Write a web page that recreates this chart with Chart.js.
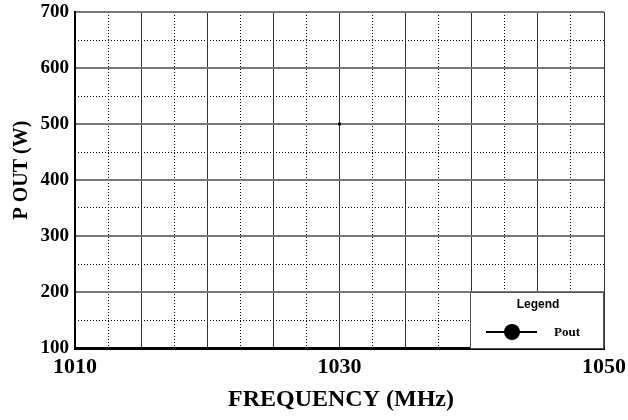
<!DOCTYPE html>
<html>
<head>
<meta charset="utf-8">
<script src="https://cdn.jsdelivr.net/npm/chart.js@4/dist/chart.umd.min.js"></script>
<style>
  html, body { margin: 0; padding: 0; background: #fff; }
  #wrap { width: 628px; height: 420px; }
</style>
</head>
<body>
<div id="wrap"><canvas id="c" width="628" height="420"></canvas></div>
<script>
// Data: the only mark is a tiny point at 1030 MHz / 500 W
const freqMHz = [1030];
const poutW = [500];

const xMin = 1010, xMax = 1050, xMajorStep = 5, xMinorStep = 2.5;
const xLabeled = [1010, 1030, 1050];
const yMin = 100, yMax = 700, yMajorStep = 100, yMinorStep = 50;

const SERIF = '"Liberation Serif", "Times New Roman", serif';
const SANS = '"Liberation Sans", Arial, sans-serif';

// Titles and legend box drawn by hand
const decorPlugin = {
  id: 'decor',
  afterDraw(chart) {
    const { ctx, chartArea: a } = chart;
    ctx.save();
    ctx.fillStyle = '#000';

    // x title
    ctx.font = 'bold 24px ' + SERIF;
    ctx.textAlign = 'center';
    ctx.textBaseline = 'middle';
    ctx.fillText('FREQUENCY (MHz)', 341, 400);

    // y title
    ctx.save();
    ctx.translate(22, 170);
    ctx.rotate(-Math.PI / 2);
    ctx.font = 'bold 20px ' + SERIF;
    ctx.fillText('P OUT (W)', 0, 0);
    ctx.restore();

    // legend box
    const bx = 470, by = 292, bw = a.right - bx, bh = a.bottom - by;
    ctx.fillStyle = '#fff';
    ctx.fillRect(bx, by, bw, bh);
    ctx.strokeStyle = '#555';
    ctx.lineWidth = 1;
    ctx.strokeRect(bx + 0.5, by + 0.5, bw - 1, bh);

    ctx.fillStyle = '#000';
    ctx.font = 'bold 12px ' + SANS;
    ctx.fillText('Legend', 538, 305);

    ctx.strokeStyle = '#000';
    ctx.lineWidth = 2;
    ctx.beginPath();
    ctx.moveTo(486, 332);
    ctx.lineTo(537, 332);
    ctx.stroke();
    ctx.beginPath();
    ctx.arc(512, 332, 8, 0, Math.PI * 2);
    ctx.fill();

    ctx.font = 'bold 13px ' + SERIF;
    ctx.fillText('Pout', 567, 333);
    ctx.restore();
  }
};

const points = freqMHz.map((f, i) => ({ x: f, y: poutW[i] }));

new Chart(document.getElementById('c'), {
  type: 'scatter',
  data: {
    datasets: [{
      label: 'Pout',
      data: points,
      pointStyle: 'rect',
      pointRadius: 2,
      backgroundColor: '#000',
      borderColor: '#000',
      borderWidth: 0
    }]
  },
  options: {
    responsive: false,
    animation: false,
    devicePixelRatio: 1,
    layout: { padding: { top: 12, right: 24, left: 0, bottom: 0 } },
    plugins: { legend: { display: false }, tooltip: { enabled: false } },
    scales: {
      xMinor: {
        type: 'linear', position: 'bottom', min: xMin, max: xMax,
        ticks: { display: false, stepSize: xMinorStep },
        grid: { color: '#000', lineWidth: 1, drawTicks: false },
        border: { display: false, dash: [1, 2] },
        afterFit(s) { s.height = 0; }
      },
      yMinor: {
        type: 'linear', position: 'left', min: yMin, max: yMax,
        ticks: { display: false, stepSize: yMinorStep },
        grid: { color: '#000', lineWidth: 1, drawTicks: false },
        border: { display: false, dash: [1, 2] },
        afterFit(s) { s.width = 0; }
      },
      x: {
        type: 'linear', position: 'bottom', min: xMin, max: xMax,
        ticks: {
          stepSize: xMajorStep,
          autoSkip: false,
          maxRotation: 0,
          padding: 6,
          color: '#000',
          font: { family: SERIF, size: 22, weight: 'bold' },
          callback: v => xLabeled.includes(v) ? String(v) : ''
        },
        grid: { color: '#333', lineWidth: 1, drawTicks: false },
        border: { color: '#000', width: 3 },
        afterFit(s) { s.height = 72; s.paddingLeft = 0; s.paddingRight = 0; }
      },
      y: {
        type: 'linear', position: 'left', min: yMin, max: yMax,
        ticks: {
          stepSize: yMajorStep,
          padding: 6,
          color: '#000',
          font: { family: SERIF, size: 19, weight: 'bold' }
        },
        grid: { color: '#777', lineWidth: 2, drawTicks: false },
        border: { color: '#000', width: 2 },
        afterFit(s) { s.width = 75; s.paddingTop = 0; s.paddingBottom = 0; }
      }
    }
  },
  plugins: [decorPlugin]
});
</script>
</body>
</html>
